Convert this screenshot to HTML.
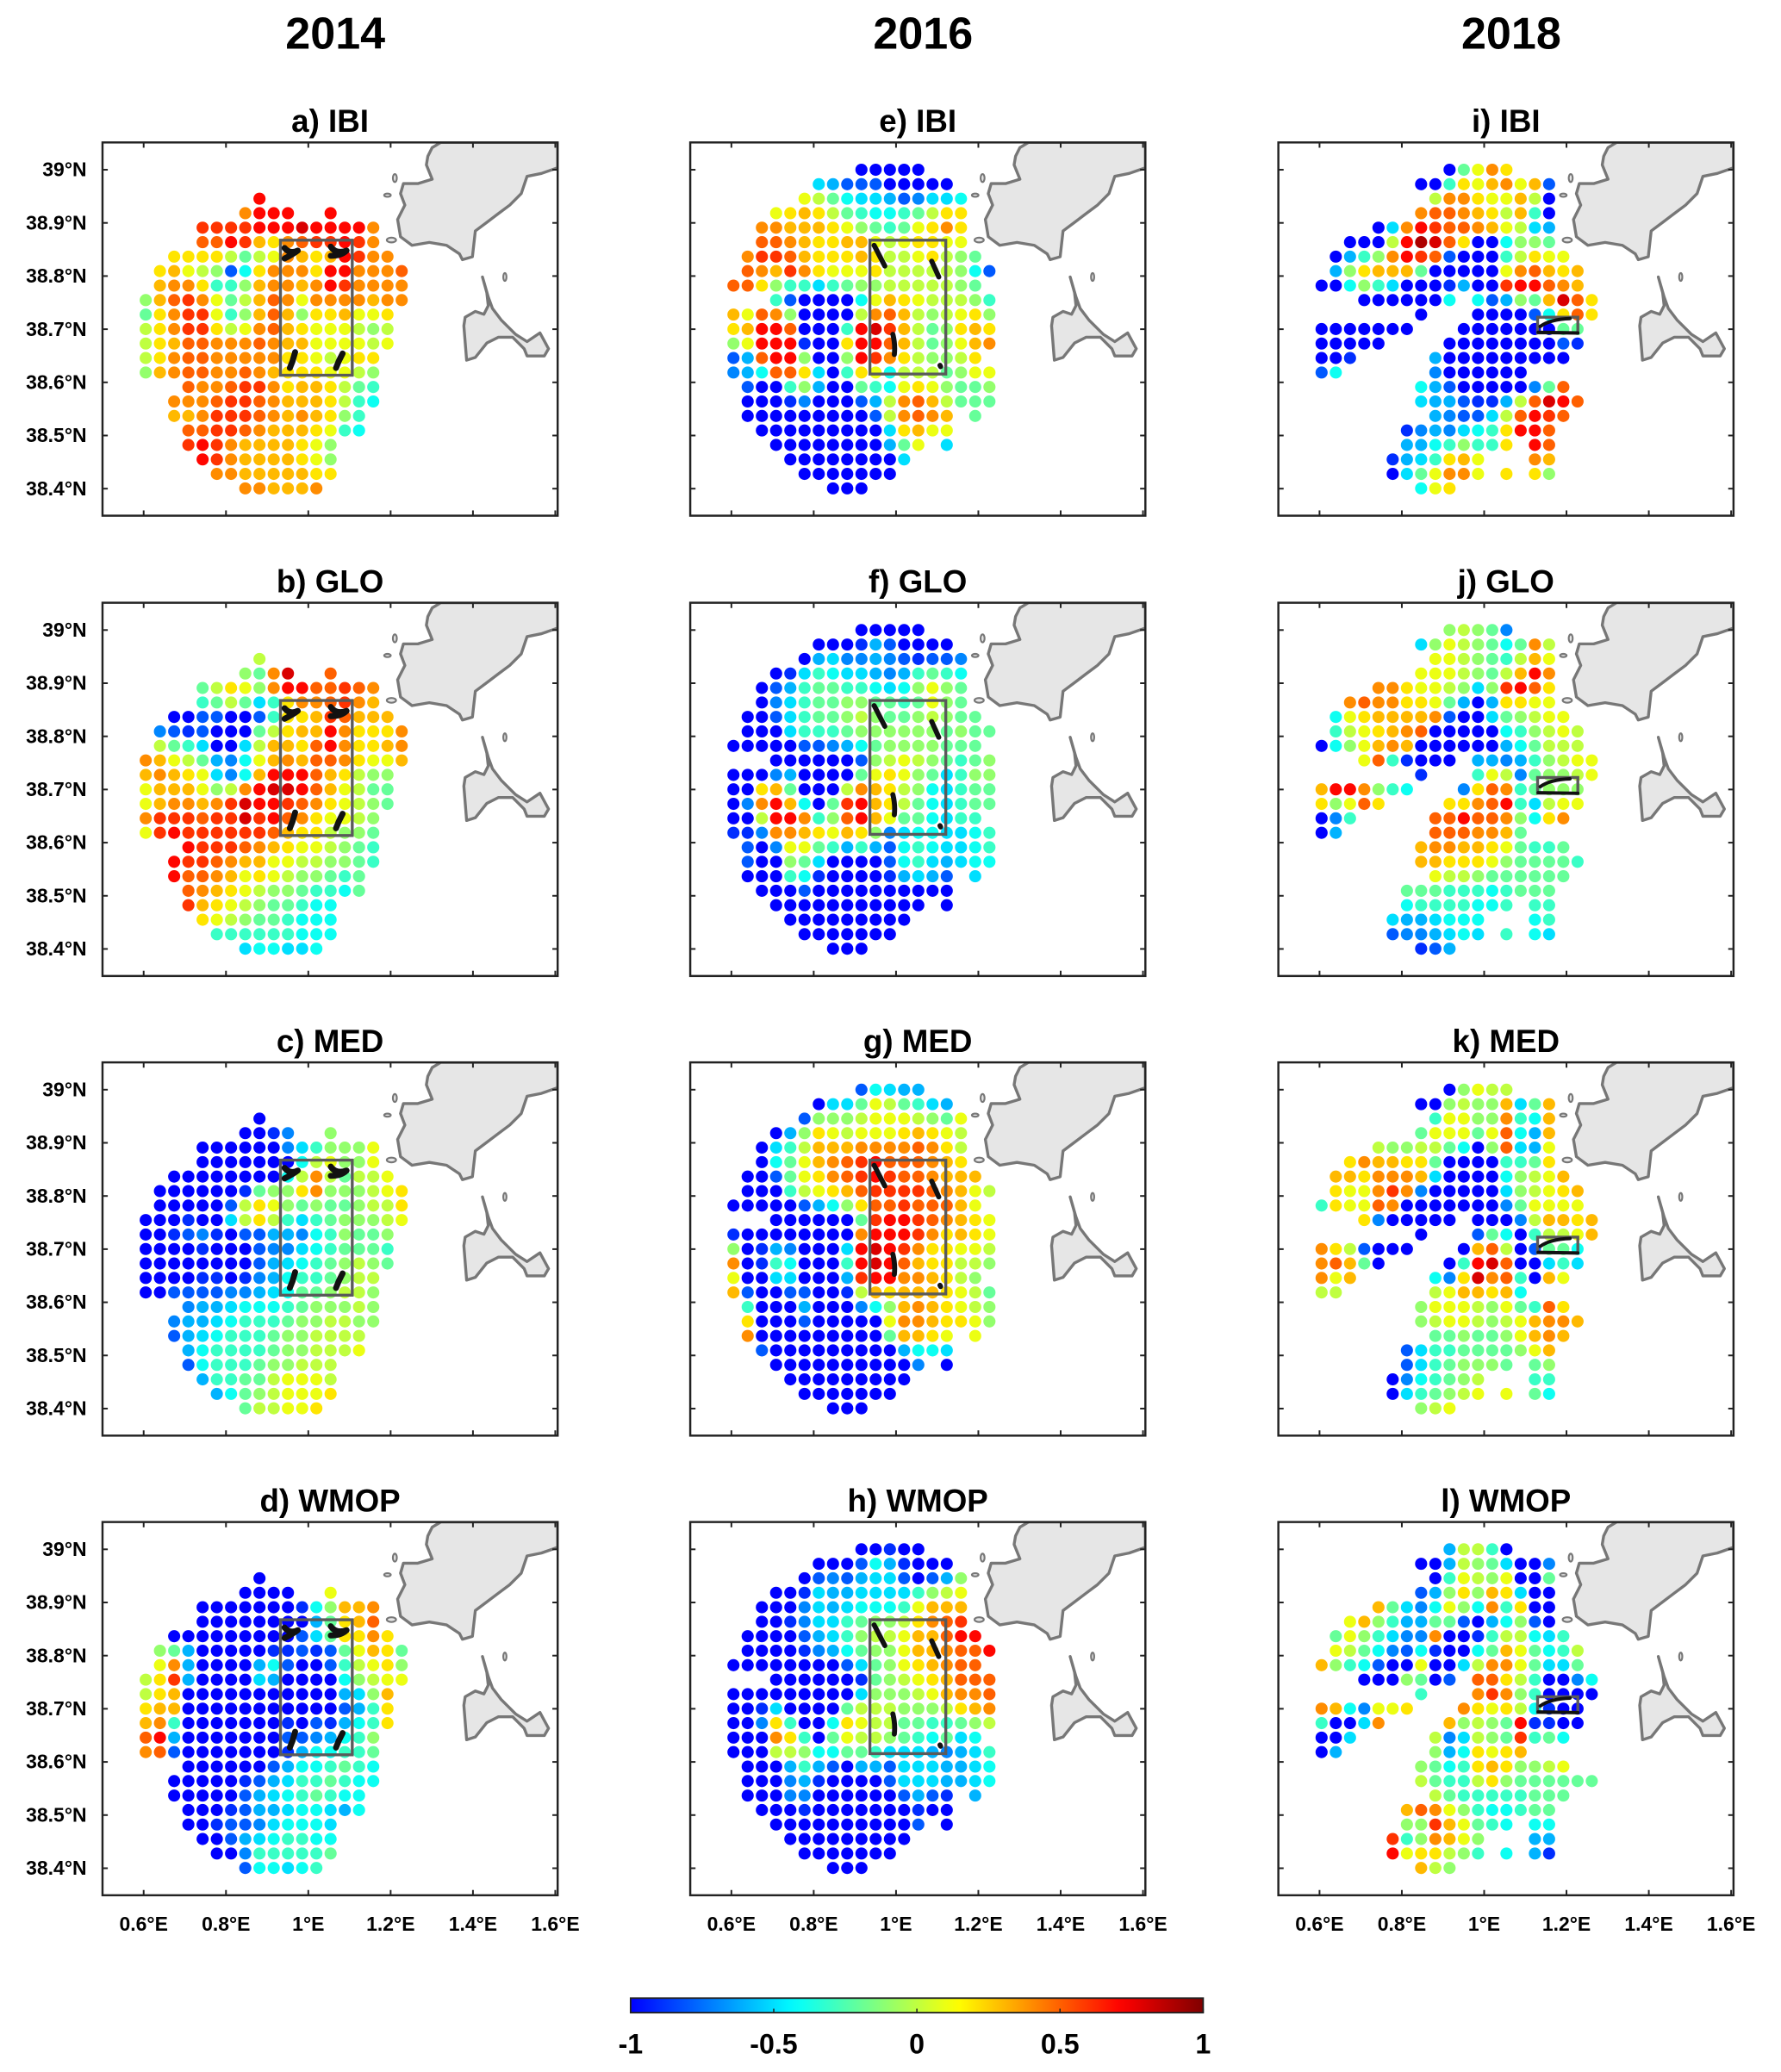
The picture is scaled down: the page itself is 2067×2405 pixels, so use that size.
<!DOCTYPE html>
<html><head><meta charset="utf-8"><title>Skill maps 2014 2016 2018</title>
<style>
html,body{margin:0;padding:0;background:#fff;}
svg{display:block;}
text{font-family:"Liberation Sans",Arial,sans-serif;fill:#000;}
</style></head>
<body>
<svg id="fig" xmlns="http://www.w3.org/2000/svg" width="2067" height="2405" viewBox="0 0 1350 1571" preserveAspectRatio="none"></svg>
<script>
// ---- data: rows of grid cells (row 0 = 39.0N), letters a..u => -1.0..+1.0 in 0.1 steps, '.' = no value
const ibi2014=["","","........r",".......orrr..r","....qqqqrrrsrrrro","....pprqnmopqqrqo","..mmmmkiklonmnrqoo",".mnlkjcgmooomrrooop",".noomhhjnoonorqoooo","jnpqoliknpoloooonoo","imoqqlhjnpnjmmnllm","kmoqqmklopnmlllkjk","kmnppoooponnllllkl","kmoppooooommlklmm","jnoppooponmmmllkj","...poopqqomnnmkih","..ooopqqponnnmkhg","..nnoqqqpononmjh","...ppqqponnnmlhg","...qrqonnnnmlj","....rqonnnnmlj",".....oonnnnnmm",".......oonnno"];
const glo2014=["","","........k",".......jios..p","....ikmljorrppqpo","....hikifhmoopqon","..aaccaachmmnqpnnn",".dcbcaaaikmnnrommmo",".kihfaafknnmprommno","onlkiedglnonppomlln","nonmlfdgnrrrpnmkjj","lnnnljkorssrpnlkii","lnoonoqsrrqpomlkji","oqqqpqqsqrpomllkj","lqrqqqqqqpnmmkjji","...rqqqponmllkjih","..rqqponnllkkjjih","..rpponlmlkjjihi","...ponmlkjjihhgi","...qnmlkjiihgg","....mlkjiihggg",".....hhhhhhggg",".......fggffg"];
const med2014=["","","........a",".......aabd..j","....aaaaaadfhjjjl","....aaaaaaagkljjl","..aaaaaaaagkokikkl",".aaaaaabijjmojjjklm",".aaaaackmljijiijkkm","aaabaafkmkhfhijjjkl","aabcdbacceedghjiij","aaaabaaacddfghiiih","aaaaaaaacefghijkji","aaaabbabdeghhijkk","aaccccddefgiijkkj","...deefggghijjjkj","..deefghhhijjkkjj","..cefghhhijjkkkk","...eghhhhijjkkkl","...cghhhijjkkk","....ehhiiklllk",".....egijklllm",".......ikkllm"];
const wmop2014=["","","........a",".......aaaa..l","....aaaaaaabgjnno","....aaaaaaaaeimnp","..aaaaaaaaacfimmom",".jieaaaaabbcbcilnmi",".loeaaaaegcaachklmj","kmqeaaaafeaaaagjkll","kmnaaaaaaaaaaaefjn","mnnaaaaaaaaaaacehm","nohaaaaaaabacbeghm","preaaaaaaaccdeghj","opcaaaaaaabegghhi","...aaaaaacegghihg","..aaaaabcefhhihgg","..aaaaacefghihgg","...aaabceefggfeg","...aabccdfgggf","....aacefghhgg",".....aadhhhhhi",".......cggfgh"];
const ibi2016=[".........aaaaa","......fecccaaaaa",".....lkigffecdffg","...lmnmkihgghikmm","..oonnnmljihilmom","..pponmmnnlklmmll",".oqqpnmmmnmkklmkji",".ponqomlllmkkkkkjgc","ppmjhhfhijjkkkkkji","...hcaaaaglnmlkkkjh","nlpojaaaakopnkjklmj","mnrrpaaahrsqnkijmnm","jlrrrbaamrrpnkijlno","ceprrjaajrqomkjjkm","degppmfahmlgkkkijll",".caahjeaaihglmljiij",".aaabdaaacekopnkiii",".aaaaaaaaackopon.i","..aaaaaaaaafmnll","...aaaaaaaaeil.f","....aaaaaaaaf",".....aaaaaaa",".......aaa"];
const glo2016=[".........aaaaa","......aaabecaaaa",".....aefddedcbccd","...abfhgffedehihg","..acehiihhgfgjlji","..adfhiijjiihilji",".aacfhiijkjiijkjii",".aaafhhhijjjjjjijii","aaaaaccdegijjjjiii","...aaaaaacjklkjihij","aaadeaaaailmljifhjj","aamniaaakonmkjgfhii","adorngaiqrnmkigfhii","aakrrohjprnliigfhh","bbdoonmlnmjdfggffgh",".cadllihehecghgffgh",".caajifaaaacghfefgg",".aaahgbaaaabefec.f","..aaacaaaaaaaaaa","...aaaaaaaaaaa.a","....aaaaaaaaa",".....aaaaaaa",".......aaa"];
const med2016=[".........cgfee","......affilkihfe",".....cjjjklllkjil","...aejmlklllmnmlk","..afhknnnoooopomk","..agilnopqrppponm",".aacilmopqrqpponnn",".aaahklmnpqqqqponlk","aaaaacegjmppqpppnl","...aaaaaaiqrrqponml","baaaaaaaaorrrqomnml","jabedaaafrsrqommllk","oabhgaaahrsrpnmmkkj","laaffaaaeqrroonmkj","ncaaccaabknmnnnmlki",".haaaeaaadgjnonmlkj",".maaacaaaaaloonmmlj",".oaaaaaaaaainnml.l","..caaaaaaaaaeggf","...aaaaaaaaaad.a","....aaaaaaaaa",".....aaaaaaa",".......aaa"];
const wmop2016=[".........aabaa","......aaacgebaaa",".....acdceffcacej","...aabfeeffffhjkl","..aaadfefggghlnnn","..aabdffhijjkmopq",".aaaacefhjkklnnprr",".aaaabdegijjlnnoppr","aaaaaaaacfijlmnopp","...aaaaaabijklmnppp","aaaaaaaaafjjjklnoop","aabfaaaaikkkjjjkmno","aadmhaagmlkkiihhijk","aaaomhailkkjihgifg","aaakkjggiihfffedefh",".aaaehecaeecfffeefg",".aaadebaaaacfffeefg",".aaaddaaaaaacecb.e","..aaabaaaaaaabaa","...aaaaaaaaaac.a","....aaaaaaaaa",".....aaaaaaa",".......aaa"];
const ibi2018=[".........ailom",".......aahmlnolnc","........koomllnka",".......opponmknha","....aforqpponlkfe","..aaakrtspmaagjji",".aehjorqpcaaahkmll",".ejmnnniaaaaalopnmn","aagjhfaaabeaaqrrpon","...aaaaaag.gcejinspm",".......a...aaaacgmpm","aaaaaaa...aaaaaaaii","aaaaa....aaaaaaaacb","aab.....eaaaaaaaaa","cg......daaaaaa",".......gecaaaaadip",".......feecbbekpsrp","........edccfkprqp","......bdedfghmrrp","......eeghjhhm.rp",".....befhmnl...on",".....afilool.m.mj",".......glm"];
const glo2018=[".........jkjid",".......fjlkjigiok","........llkjihknl",".......lllkjiknro","....oomllkjfjqrpm","..opoommlieaemmll",".glmnnnnocaafijkll",".hklmnopaaaaaghjklk","agjlnonaaaaaaegikkk","...lphbaaa.eedehjkll",".......b...hlkdijjkl","nrrojhg...dmpohijjj","mjlpm....mmoprhfkll","adh.....pprppojgmo","ae......pppooni",".......noonnmlihhi",".......nnmmmljiiiih","........lkkjiiiiii","......iiihhhghiii","......ghhhhggh.hh",".....feefggg...gh",".....cddefgf.h.gf",".......bce"];
const med2018=[".........ajlkk",".......aajkjjnfin","........hlljjohgn",".......illlilpgen","....kjjkkigajpfel","..monnmmiaaaahhim",".nnmooonfaaaagjkln",".mlloqodaaaaafjklmn","hmllpoaaaaaaadillll","...mdaaaaa.aaadknnmn",".......a...cigahkkln","omkcaaa...anpkaciig","opnia....ahrspaafhf","oln.....gdmsophanl","kk......klnnmng",".......jlllkjlihpm",".......jkllkjklnoon","........iijiijlnon","......cfhhiiiijln","......cfhijjji.ij",".....adghijk...hh",".....afhijkl.l.ig",".......jkl"];
const wmop2018=[".........ekkha",".......aaekjifaad","........ahlkjlaai",".......cejmjnmfaa","....nifdgljgohmaa","..lnjheeiicaegjca",".iljhfddoaabhkkgfh",".lkigdcgbaaginlighk","njhgcaalaafkooliffi","...aaajiac.ppmkhaadg",".......h...oqojhaaaa","ongdllm...omlmkgbaa","haafo....njkjirbbaa","aaf.....kdfkjiqhig","ae......jegmlmn",".......jighmnmjjkl",".......kihhkmjiiiiii","........kihhhhhiii","......npoljhgghii","......jjqnlihg.gg",".....qhjonlj...ee",".....rlmmkjh.g.eb",".......nkj"];
const years=["2014","2016","2018"];
const panelTitles=[["a) IBI","b) GLO","c) MED","d) WMOP"],["e) IBI","f) GLO","g) MED","h) WMOP"],["i) IBI","j) GLO","k) MED","l) WMOP"]];
const panelData=[[ibi2014,glo2014,med2014,wmop2014],[ibi2016,glo2016,med2016,wmop2016],[ibi2018,glo2018,med2018,wmop2018]];
const lonTicks=[0.6,0.8,1.0,1.2,1.4,1.6];
const lonTickLabels=["0.6°E","0.8°E","1°E","1.2°E","1.4°E","1.6°E"];
const latTicks=[39.0,38.9,38.8,38.7,38.6,38.5,38.4];
const latTickLabels=["39°N","38.9°N","38.8°N","38.7°N","38.6°N","38.5°N","38.4°N"];
const cbTicks=[-1,-0.5,0,0.5,1];
const cbTickLabels=["-1","-0.5","0","0.5","1"];

// ---- layout
const NS="http://www.w3.org/2000/svg";
const svg=document.getElementById("fig");
const LEFTS=[77.7,523.2,969], TOPS=[108,457,805.5,1154], PW=345, PH=283;
const LAT0=39.0, DLAT=0.02725, LON0=0.605, DLON=0.03455;
function xOf(col,lon){return LEFTS[col]+(lon-0.5)*312;}
function yOf(row,lat){return TOPS[row]+20.7+(39.0-lat)*403;}
function jet(v){
  let t=0.125+0.875*(Math.max(-1,Math.min(1,v))+1)/2;
  const c=x=>Math.round(255*Math.max(0,Math.min(1,x)));
  return "rgb("+c(1.5-Math.abs(4*t-3))+","+c(1.5-Math.abs(4*t-2))+","+c(1.5-Math.abs(4*t-1))+")";
}
function el(tag,attrs,parent){const e=document.createElementNS(NS,tag);for(const k in attrs)e.setAttribute(k,attrs[k]);(parent||svg).appendChild(e);return e;}

const defs=el("defs",{});
const grad=el("linearGradient",{id:"jetg",x1:"0",x2:"1",y1:"0",y2:"0"},defs);
for(let i=0;i<=40;i++){el("stop",{offset:(i/40),"stop-color":jet(-1+2*i/40)},grad);}

const ibizaPts=[[256.4,0],[249.9,3.9],[246.6,10.5],[245.5,17],[249.9,27.9],[239,31.2],[228.1,31.2],[225.9,38.8],[229.2,47.5],[223.7,58.4],[225.9,71.5],[234.6,78],[247.7,75.8],[260.8,78],[270.6,84.5],[272.8,88.9],[280.4,86.7],[282.6,67.1],[291.3,60.6],[300,54],[308.7,47.5],[317.4,38.8],[321.8,25.7],[332.7,23.5],[345,19.2],[345,0]];
const formPts=[[288,102],[291.3,113.9],[292.4,123.7],[289.1,130.3],[282.6,128.1],[274.9,132.5],[273.9,139],[276,165.1],[282.6,163],[291.3,152.1],[300,147.7],[310.9,147.7],[319.6,156.4],[321.8,161.9],[334.9,161.9],[338.1,156.4],[331.6,144.4],[321.8,151],[313.1,145.5],[302.2,134.6],[295.6,125.9],[292.4,117.2]];

for(let c=0;c<3;c++){
  const t=el("text",{x:LEFTS[c]+PW/2+4,y:37,"text-anchor":"middle","font-size":"34","font-weight":"bold"});
  t.textContent=years[c];
  
  
}

for(let c=0;c<3;c++){
  for(let r=0;r<4;r++){
    const L=LEFTS[c],T=TOPS[r];
    const g=el("g",{});
    
    
    const ttl=el("text",{x:L+PW/2,y:T-8,"text-anchor":"middle","font-size":"24","font-weight":"bold"},g);
    ttl.textContent=panelTitles[c][r];
    
    
    const cp=el("clipPath",{id:"cp"+c+r},defs);
    el("rect",{x:L,y:T,width:PW,height:PH},cp);
    const land=el("g",{"clip-path":"url(#cp"+c+r+")"},g);
    
    
    const poly=(pts)=>pts.map(p=>(L+p[0]).toFixed(1)+","+(T+p[1]).toFixed(1)).join(" ");
    el("polygon",{points:poly(ibizaPts),fill:"#e6e6e6",stroke:"#777","stroke-width":"2.2","stroke-linejoin":"round"},land);
    el("polygon",{points:poly(formPts),fill:"#e6e6e6",stroke:"#777","stroke-width":"2.2","stroke-linejoin":"round"},land);
    el("ellipse",{cx:L+221.6,cy:T+27,rx:1.5,ry:3,fill:"#e6e6e6",stroke:"#777","stroke-width":"1.4"},land);
    el("ellipse",{cx:L+216,cy:T+40,rx:2.5,ry:1.2,fill:"#e6e6e6",stroke:"#777","stroke-width":"1.4"},land);
    el("ellipse",{cx:L+219,cy:T+74,rx:3.5,ry:1.8,fill:"#e6e6e6",stroke:"#777","stroke-width":"1.4"},land);
    el("ellipse",{cx:L+305,cy:T+102,rx:1.2,ry:3,fill:"#e6e6e6",stroke:"#777","stroke-width":"1.4"},land);
    const dg=el("g",{},g);
    
    
    const rows=panelData[c][r];
    for(let R=0;R<rows.length;R++){
      const s=rows[R];
      for(let k=0;k<s.length;k++){
        const ch=s.charAt(k); if(ch==='.') continue;
        const v=-1+(ch.charCodeAt(0)-97)*0.1;
        const lat=LAT0-R*DLAT, lon=LON0+k*DLON;
        const d=el("circle",{cx:xOf(c,lon).toFixed(2),cy:yOf(r,lat).toFixed(2),r:4.6,fill:jet(v)},dg);
        
        
      }
    }
    const bx=el("g",{fill:"none"},g);
    
    
    if(c===0){
      el("rect",{x:L+134.9,y:T+74.1,width:54.4,height:102.4,stroke:"#5a5a5a","stroke-width":"2.2"},bx);
      const dr="M"+(L+138)+" "+(T+80)+" q4 5 10 2 q-4 3 -10 6 M"+(L+173)+" "+(T+79)+" q4 6 12 3 q-4 4 -12 4 M"+(L+146)+" "+(T+159)+" l-2 7 l-2 5 M"+(L+182)+" "+(T+160)+" l-3 6 l-2 5";
      el("path",{d:dr,stroke:"#111","stroke-width":"4.5","stroke-linecap":"round","stroke-linejoin":"round"},bx);
    }else if(c===1){
      el("rect",{x:L+136.2,y:T+74.1,width:57.5,height:101.5,stroke:"#5a5a5a","stroke-width":"2.2"},bx);
      const dr="M"+(L+139.4)+" "+(T+78)+" L"+(L+147.5)+" "+(T+93.7)+" M"+(L+183)+" "+(T+90)+" L"+(L+188.4)+" "+(T+102)+" M"+(L+153.6)+" "+(T+145.5)+" Q"+(L+155.5)+" "+(T+153)+" "+(L+154.7)+" "+(T+160.8)+" M"+(L+189.3)+" "+(T+169)+" l0.5 1";
      el("path",{d:dr,stroke:"#111","stroke-width":"3.8","stroke-linecap":"round"},bx);
    }else{
      el("rect",{x:L+196.5,y:T+132.5,width:30.5,height:11.9,stroke:"#5a5a5a","stroke-width":"2.2"},bx);
      const dr="M"+(L+198.5)+" "+(T+139.5)+" Q"+(L+206)+" "+(T+134)+" "+(L+221)+" "+(T+133.5)+" M"+(L+197)+" "+(T+144)+" L"+(L+227)+" "+(T+144.5);
      el("path",{d:dr,stroke:"#111","stroke-width":"2.6","stroke-linecap":"round"},bx);
    }
    const ax=el("g",{},g);
    
    
    el("rect",{x:L,y:T,width:PW,height:PH,fill:"none",stroke:"#222","stroke-width":"1.6"},ax);
    for(let i=0;i<lonTicks.length;i++){
      const x=xOf(c,lonTicks[i]);
      if(x>L+PW-1) continue;
      el("line",{x1:x,y1:T,x2:x,y2:T+4,stroke:"#222","stroke-width":"1.3"},ax);
      el("line",{x1:x,y1:T+PH,x2:x,y2:T+PH-4,stroke:"#222","stroke-width":"1.3"},ax);
    }
    for(let i=0;i<latTicks.length;i++){
      const y=yOf(r,latTicks[i]);
      el("line",{x1:L,y1:y,x2:L+4,y2:y,stroke:"#222","stroke-width":"1.3"},ax);
      el("line",{x1:L+PW,y1:y,x2:L+PW-4,y2:y,stroke:"#222","stroke-width":"1.3"},ax);
      if(c===0){
        const tl=el("text",{x:L-12,y:y+5,"text-anchor":"end","font-size":"15","font-weight":"bold"},ax);
        tl.textContent=latTickLabels[i];
        
        
      }
    }
    if(r===3){
      for(let i=0;i<lonTicks.length;i++){
        const tl=el("text",{x:xOf(c,lonTicks[i]),y:T+PH+27,"text-anchor":"middle","font-size":"15","font-weight":"bold"},ax);
        tl.textContent=lonTickLabels[i];
        
        
      }
    }
  }
}

const CB_X0=478, CB_X1=912, CB_Y=1515, CB_H=11;
const cbg=el("g",{});


el("rect",{x:CB_X0,y:CB_Y,width:CB_X1-CB_X0,height:CB_H,fill:"url(#jetg)",stroke:"#222","stroke-width":"1.2"},cbg);
for(let i=0;i<cbTicks.length;i++){
  const x=CB_X0+(cbTicks[i]+1)/2*(CB_X1-CB_X0);
  el("line",{x1:x,y1:CB_Y+CB_H,x2:x,y2:CB_Y+CB_H-3,stroke:"#222","stroke-width":"1"},cbg);
  const t=el("text",{x:x,y:1557,"text-anchor":"middle","font-size":"21","font-weight":"bold"},cbg);
  t.textContent=cbTickLabels[i];
  
  
}
</script>
</body></html>
